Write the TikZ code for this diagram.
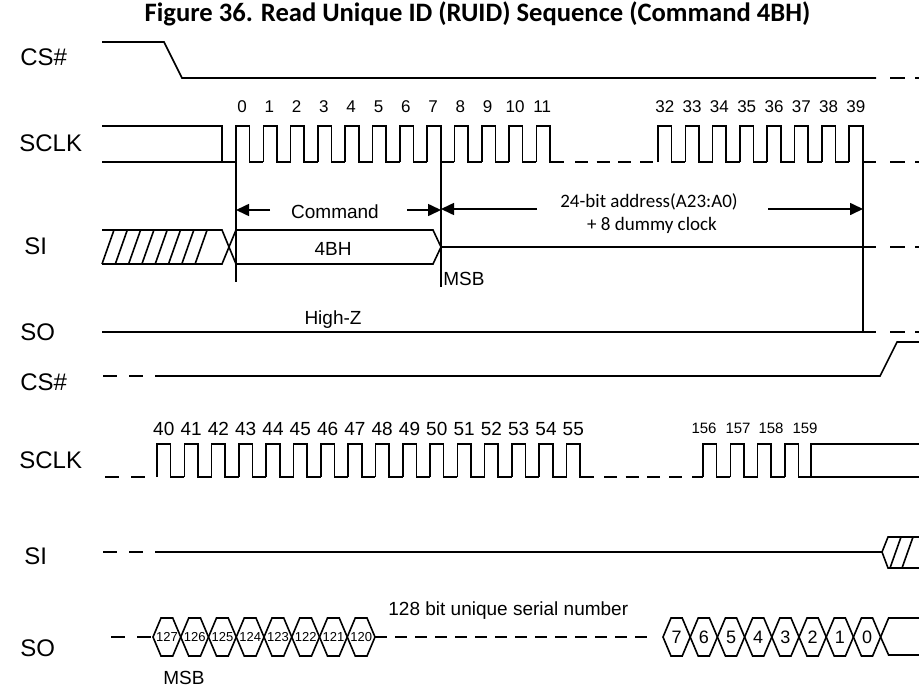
\documentclass[tikz,border=0pt]{standalone}
\usepackage{fontspec}
\setmainfont{Liberation Sans}
\newfontfamily\calibri{Carlito}
\usetikzlibrary{arrows.meta}

\begin{document}
\begin{tikzpicture}[x=0.5pt, y=-0.5pt,
    sig/.style={line width=0.8pt},
    gapline/.style={sig, dash pattern=on 6.5pt off 4.35pt},
    tailline/.style={sig, dash pattern=on 7.5pt off 5pt},
    leadline/.style={sig, dash pattern=on 7pt off 6pt},
    dimarrow/.style={sig, -{Triangle[length=6.5pt,width=6pt]}},
    lbl/.style={font=\fontsize{12}{14}\selectfont, inner sep=0pt, anchor=base west},
    num/.style={font=\fontsize{8.5}{10}\selectfont, inner sep=0pt, anchor=base},
    bignum/.style={font=\fontsize{9.5}{11}\selectfont, inner sep=0pt, anchor=base},
    smallnum/.style={font=\fontsize{7.5}{9}\selectfont, inner sep=0pt, anchor=base},
    txt/.style={font=\fontsize{9.5}{11}\selectfont, inner sep=0pt, anchor=base},
    cal/.style={font=\calibri\fontsize{9.5}{11}\selectfont, inner sep=0pt, anchor=base},
    bit/.style={font=\fontsize{9}{10}\selectfont, inner sep=0pt},
    tinybit/.style={font=\fontsize{6.5}{7}\selectfont, inner sep=0pt}]
  \useasboundingbox (0,0) rectangle (919,685);

  % title
  \node[font=\calibri\bfseries\fontsize{13.3}{16}\selectfont, inner sep=0pt, anchor=base] (title) at (477.5,21)
    {Figure 36. Read Unique ID (RUID) Sequence (Command 4BH)};

  % signal names
  \node[lbl] (cs1) at (20,65) {CS\#};
  \node[lbl] (sclk1) at (19,151) {SCLK};
  \node[lbl] (si1) at (24,254) {SI};
  \node[lbl] (so1) at (20,340) {SO};
  \node[lbl] (cs2) at (20,390) {CS\#};
  \node[lbl] (sclk2) at (19,468) {SCLK};
  \node[lbl] (si2) at (24,564) {SI};
  \node[lbl] (so2) at (20,656) {SO};

  % CS# (upper)
  \draw[sig] (102,42) -- (164,42) -- (182,78) -- (876,78);
  \draw[tailline] (890,78) -- (919,78);

  % SCLK (upper)
  \draw[sig] (102,126) -- (222,126) -- (222,162);
  \draw[sig] (102,162) -- (236,162);
  \foreach \k in {0,...,11} {
    \draw[sig] ({236+27.3*\k},162) -- ++(0,-36) -- ++(13.65,0) -- ++(0,36) -- ++(13.65,0);
    \node[num] (c\k) at ({242+27.3*\k},112) {\k};
  }
  \draw[gapline] (575,162) -- (658,162);
  \foreach \k in {32,...,39} {
    \draw[sig] ({658+27.3*(\k-32)},162) -- ++(0,-36) -- ++(13.65,0) -- ++(0,36) -- ++(13.65,0);
    \node[num] (c\k) at ({664.8+27.3*(\k-32)},112) {\k};
  }
  \draw[tailline] (890,162) -- (919,162);

  % markers
  \coordinate (mA) at (236,282);
  \coordinate (mB) at (441,287);
  \coordinate (mC) at (863,332);
  \draw[sig] (236,126) -- (mA);
  \draw[sig] (441,128) -- (mB);
  \draw[sig] (863,126) -- (mC);

  % command / address spans
  \node[txt] (cmd) at (335,218) {Command};
  \coordinate (cmdL) at (270,210);
  \coordinate (cmdR) at (407,210);
  \draw[dimarrow] (cmdL) -- (cmdL -| mA);
  \draw[dimarrow] (cmdR) -- (cmdR -| mB);
  \node[cal] (addr) at (649,207) {24-bit address(A23:A0)};
  \node[cal] (dummy) at (652,230) {+ 8 dummy clock};
  \coordinate (adrL) at (537,209);
  \coordinate (adrR) at (768,209);
  \draw[dimarrow] (adrL) -- (adrL -| mB);
  \draw[dimarrow] (adrR) -- (adrR -| mC);

  % SI (upper)
  \draw[sig] (102,230) -- (222,230) -- (229,247) -- (222,264) -- (102,264);
  \foreach \k in {0,...,7}
    \draw[sig] ({102+13.3*\k},264) -- ++(12,-34);
  \draw[sig] (229,247) -- (236,230) -- (433,230) -- (441,247) -- (433,264) -- (236,264) -- cycle;
  \node[txt] (cmdval) at (333,255) {4BH};
  \draw[sig] (441,247) -- (876,247);
  \draw[tailline] (890,247) -- (919,247);
  \node[txt, anchor=base west] (msb1) at (443,285) {MSB};

  % SO (upper)
  \draw[sig] (102,332) -- (876,332);
  \draw[tailline] (890,332) -- (919,332);
  \node[txt] (hiz) at (333,324) {High-Z};

  % CS# (lower)
  \draw[leadline] (103,376) -- (145,376);
  \draw[sig] (155,376) -- (880,376) -- (897,342) -- (919,342);

  % SCLK (lower)
  \draw[leadline] (105,477) -- (145,477);
  \foreach \k in {40,...,55} {
    \draw[sig] ({157+27.3*(\k-40)},477) -- ++(0,-33) -- ++(13.65,0) -- ++(0,33) -- ++(13.65,0);
    \node[bignum] (c\k) at ({163.8+27.3*(\k-40)},435) {\k};
  }
  \draw[gapline] (604,477) -- (682,477);
  \draw[sig] (692,477) -- (703,477);
  \foreach \k/\lx in {156/704,157/738,158/771,159/805} {
    \draw[sig] ({703+27.3*(\k-156)},477) -- ++(0,-33) -- ++(13.65,0) -- ++(0,33) -- ++(13.65,0);
    \node[smallnum] (c\k) at (\lx,433) {\k};
  }
  \draw[sig] (811,477) -- (811,444) -- (919,444);
  \draw[sig] (811,477) -- (919,477);

  % SI (lower)
  \draw[leadline] (103,552) -- (145,552);
  \draw[sig] (155,552) -- (882,552) -- (888,537) -- (919,537);
  \draw[sig] (882,552) -- (888,568) -- (919,568);
  \foreach \k in {0,1}
    \draw[sig] ({890+12*\k},568) -- ++(11,-31);

  % SO (lower)
  \draw[leadline] (111,637) -- (153,637);
  \foreach \v [count=\i from 0] in {127,126,...,120} {
    \draw[sig] ({153+27.75*\i},637) -- ++(8,-19) -- ++(11.75,0) -- ++(8,19) -- ++(-8,19) -- ++(-11.75,0) -- cycle;
    \node[tinybit] (b\v) at ({167+27.75*\i},637) {\v};
  }
  \draw[sig] (375,637) -- (387,637);
  \draw[sig, dash pattern=on 6pt off 4pt] (395,637) -- (648,637);
  \node[txt, anchor=base west] (serial) at (388,615) {128 bit unique serial number};
  \foreach \v [count=\i from 0] in {7,6,...,0} {
    \draw[sig] ({663+27.2*\i},637) -- ++(8,-19) -- ++(11.2,0) -- ++(8,19) -- ++(-8,19) -- ++(-11.2,0) -- cycle;
    \node[bit] (d\v) at ({676.6+27.2*\i},637) {\v};
  }
  \draw[sig] (880.6,637) -- (888.6,618) -- (919,618);
  \draw[sig] (880.6,637) -- (888.6,655) -- (919,655);
  \node[txt, anchor=base west] (msb2) at (163,684) {MSB};
\end{tikzpicture}
\end{document}
